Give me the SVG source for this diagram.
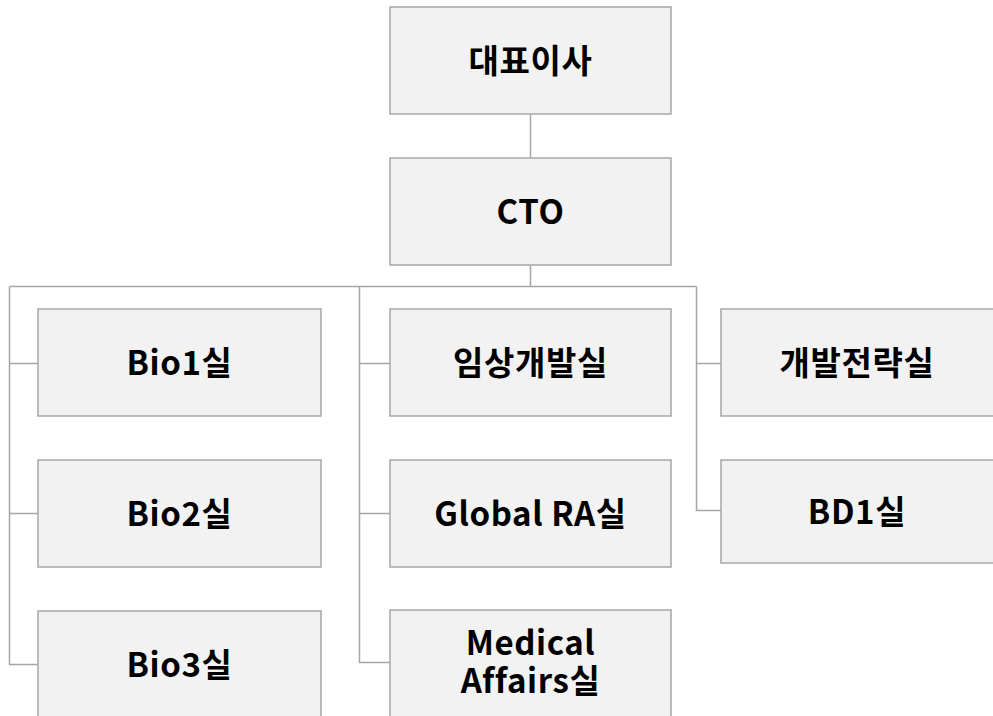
<svg xmlns="http://www.w3.org/2000/svg" width="993" height="716" viewBox="0 0 993 716">
<style>
.box{fill:#f2f2f2;stroke:#a6a6a6;stroke-width:1.5}
.lbl{font-family:"Noto Sans CJK KR","Noto Sans",sans-serif;font-weight:bold;font-size:33px;letter-spacing:0.6px;fill:#000;text-anchor:middle}
.ln{fill:none;stroke:#a6a6a6;stroke-width:1.5}
</style>
<rect width="993" height="716" fill="#fff"/>
<g id="connectors">
<path class="ln" d="M530.5 114V158M530.5 265V286.5M9.5 286.5H696.5"/>
<path class="ln" d="M9.5 286.5V664.5H38M9.5 363.5H38M9.5 513.5H38"/>
<path class="ln" d="M359.5 286.5V662.5H390M359.5 363.5H390M359.5 513.5H390"/>
<path class="ln" d="M696.5 286.5V510.5H721M696.5 363.5H721"/>
</g>
<g id="ceo"><rect class="box" x="390" y="7" width="281" height="107"/><text class="lbl" x="530.5" y="73">대표이사</text></g>
<g id="cto"><rect class="box" x="390" y="158" width="281" height="107"/><text class="lbl" x="530.5" y="224">CTO</text></g>
<g id="bio1"><rect class="box" x="38" y="309" width="283" height="107"/><text class="lbl" x="179.5" y="375">Bio1실</text></g>
<g id="bio2"><rect class="box" x="38" y="460" width="283" height="107"/><text class="lbl" x="179.5" y="526">Bio2실</text></g>
<g id="bio3"><rect class="box" x="38" y="611" width="283" height="107"/><text class="lbl" x="179.5" y="677">Bio3실</text></g>
<g id="clinical"><rect class="box" x="390" y="309" width="281" height="107"/><text class="lbl" x="530.5" y="375">임상개발실</text></g>
<g id="globalra"><rect class="box" x="390" y="460" width="281" height="107"/><text class="lbl" x="530.5" y="526">Global RA실</text></g>
<g id="medical"><rect class="box" x="390" y="610" width="281" height="108"/><text class="lbl"><tspan x="530.5" y="655">Medical</tspan><tspan x="530.5" y="693">Affairs실</tspan></text></g>
<g id="strategy"><rect class="box" x="721" y="309" width="281" height="107"/><text class="lbl" x="857" y="375">개발전략실</text></g>
<g id="bd1"><rect class="box" x="721" y="460" width="281" height="103"/><text class="lbl" x="857" y="524">BD1실</text></g>
</svg>
